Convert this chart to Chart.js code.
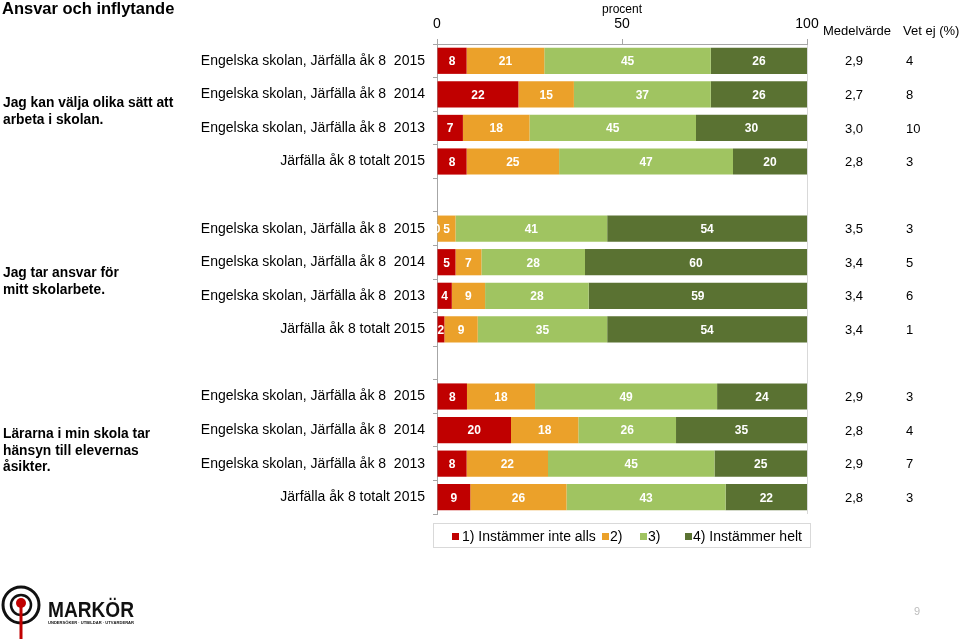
<!DOCTYPE html>
<html>
<head>
<meta charset="utf-8">
<script src="https://cdn.jsdelivr.net/npm/chart.js@4.4.1/dist/chart.umd.min.js"></script>
<style>
  html, body { margin: 0; padding: 0; background: #fff; }
  #wrap { position: relative; width: 959px; height: 639px; overflow: hidden; font-family: "Liberation Sans", Arial, sans-serif; }
  #c { position: absolute; left: 0; top: 0; }
  #legend { position: absolute; left: 433px; top: 523px; width: 378px; height: 25px; border: 1px solid #d9d9d9; box-sizing: border-box; }
  .li { position: absolute; top: 0; height: 25px; line-height: 25px; font-size: 14px; color: #000; white-space: nowrap; }
  .sw { position: absolute; top: 9px; width: 7px; height: 7px; }
  #pnum { position: absolute; left: 914px; top: 605px; font-size: 11px; color: #bdbdbd; }
  #logo { position: absolute; left: 0; top: 584px; }
</style>
</head>
<body>
<div id="wrap">
  <canvas id="c" width="959" height="639"></canvas>
  <div id="legend"></div>
  <div id="pnum">9</div>
  <svg id="logo" width="150" height="55" viewBox="0 0 150 55">
    <circle cx="21" cy="21" r="18" fill="none" stroke="#111" stroke-width="3"/>
    <circle cx="21" cy="21" r="10" fill="none" stroke="#111" stroke-width="2.5"/>
    <line x1="21" y1="21" x2="21" y2="55" stroke="#c00000" stroke-width="3"/>
    <circle cx="21" cy="19" r="5" fill="#c00000"/>
    <text x="48" y="33" font-family="Liberation Sans, Arial" font-weight="bold" font-size="22" fill="#111" textLength="86" lengthAdjust="spacingAndGlyphs">MARKÖR</text>
    <text x="48" y="40" font-family="Liberation Sans, Arial" font-weight="bold" font-size="4" fill="#111" textLength="86" lengthAdjust="spacingAndGlyphs">UNDERSÖKER · UTBILDAR · UTVÄRDERAR</text>
  </svg>
</div>
<script>
// ---- Data ----
const rowLabels = [
  'Engelska skolan, Järfälla åk 8  2015',
  'Engelska skolan, Järfälla åk 8  2014',
  'Engelska skolan, Järfälla åk 8  2013',
  'Järfälla åk 8 totalt 2015',
  '',
  'Engelska skolan, Järfälla åk 8  2015',
  'Engelska skolan, Järfälla åk 8  2014',
  'Engelska skolan, Järfälla åk 8  2013',
  'Järfälla åk 8 totalt 2015',
  '',
  'Engelska skolan, Järfälla åk 8  2015',
  'Engelska skolan, Järfälla åk 8  2014',
  'Engelska skolan, Järfälla åk 8  2013',
  'Järfälla åk 8 totalt 2015'
];
const seriesNames = ['1) Instämmer inte alls', '2)', '3)', '4) Instämmer helt'];
const s1 = [8, 22, 7, 8, null, 0, 5, 4, 2, null, 8.1, 20.0, 8, 9];
const s2 = [21, 15, 18, 25, null, 5, 7, 9, 9, null, 18.4, 18.2, 22, 26];
const s3 = [45, 37, 45, 47, null, 41, 28, 28, 35, null, 49.2, 26.4, 45, 43];
const s4 = [26, 26, 30, 20, null, 54, 60, 59, 54, null, 24.3, 35.4, 25, 22];
const means = ['2,9', '2,7', '3,0', '2,8', '', '3,5', '3,4', '3,4', '3,4', '', '2,9', '2,8', '2,9', '2,8'];
const vetEj = ['4', '8', '10', '3', '', '3', '5', '6', '1', '', '3', '4', '7', '3'];
const questions = [
  ['Jag kan välja olika sätt att', 'arbeta i skolan.'],
  ['Jag tar ansvar för', 'mitt skolarbete.'],
  ['Lärarna i min skola tar', 'hänsyn till elevernas', 'åsikter.']
];
const questionRows = [[0, 3], [5, 8], [10, 13]];
const xTicks = [0, 50, 100];
const colors = ['#c00000', '#eba12a', '#a0c461', '#5a7232'];

// ---- Legend (HTML) ----
const legendPos = [[18, 28], [168, 176], [206, 214], [251, 259]];
const leg = document.getElementById('legend');
seriesNames.forEach((n, i) => {
  const sw = document.createElement('div');
  sw.className = 'sw'; sw.style.left = legendPos[i][0] + 'px'; sw.style.background = colors[i];
  leg.appendChild(sw);
  const t = document.createElement('div');
  t.className = 'li'; t.style.left = legendPos[i][1] + 'px'; t.textContent = n;
  leg.appendChild(t);
});

const FONT = '"Liberation Sans", Arial, sans-serif';
const qOffsets = [0.5, 2.5, 4];

const labelPlugin = {
  id: 'segLabels',
  afterDatasetsDraw(chart) {
    const ctx = chart.ctx;
    ctx.save();
    ctx.font = 'bold 12px ' + FONT;
    ctx.fillStyle = '#ffffff';
    ctx.textAlign = 'center';
    ctx.textBaseline = 'middle';
    chart.data.datasets.forEach((ds, di) => {
      const meta = chart.getDatasetMeta(di);
      meta.data.forEach((el, i) => {
        const v = ds.data[i];
        if (v === null || v === undefined) return;
        const x = (el.x + el.base) / 2;
        ctx.fillText(String(Math.round(v)), x, el.y + 1);
      });
    });
    ctx.restore();
  },
  afterDraw(chart) {
    const ctx = chart.ctx;
    const y = chart.scales.y;
    ctx.save();
    ctx.fillStyle = '#000';
    ctx.textBaseline = 'middle';
    ctx.textAlign = 'left';
    ctx.font = 'bold 16.5px ' + FONT;
    ctx.fillText('Ansvar och inflytande', 2, 9);
    ctx.font = '13px ' + FONT;
    ctx.fillText('Medelvärde', 823, 31);
    ctx.fillText('Vet ej (%)', 903, 31);
    rowLabels.forEach((l, i) => {
      const py = y.getPixelForValue(i) + 1;
      if (means[i]) ctx.fillText(means[i], 845, py);
      if (vetEj[i]) ctx.fillText(vetEj[i], 906, py);
    });
    ctx.font = 'bold 13.8px ' + FONT;
    questions.forEach((lines, qi) => {
      const r = questionRows[qi];
      const cy = (y.getPixelForValue(r[0]) + y.getPixelForValue(r[1])) / 2 + qOffsets[qi];
      const lh = 16.5;
      const start = cy - (lines.length - 1) * lh / 2;
      lines.forEach((ln, k) => ctx.fillText(ln, 3, start + k * lh));
    });
    ctx.restore();
  }
};

new Chart(document.getElementById('c'), {
  type: 'bar',
  data: {
    labels: rowLabels,
    datasets: [s1, s2, s3, s4].map((d, i) => ({
      label: seriesNames[i],
      data: d,
      backgroundColor: colors[i],
      borderWidth: 0,
      barPercentage: 0.78,
      categoryPercentage: 1
    }))
  },
  options: {
    indexAxis: 'y',
    responsive: false,
    devicePixelRatio: 1,
    animation: false,
    layout: { padding: { left: 0, right: 152, top: 0, bottom: 125 } },
    plugins: { legend: { display: false }, tooltip: { enabled: false } },
    scales: {
      x: {
        position: 'top',
        stacked: true,
        min: 0, max: 100,
        afterBuildTicks: (s) => { s.ticks = xTicks.map(v => ({ value: v })); },
        afterFit: (s) => { s.height = 44; },
        ticks: { font: { family: FONT, size: 14 }, color: '#000', padding: 6, maxRotation: 0 },
        grid: {
          drawOnChartArea: true,
          color: (c) => (c.tick && c.tick.value === 100 ? '#d9d9d9' : 'rgba(0,0,0,0)'),
          tickColor: '#a6a6a6',
          tickLength: 5
        },
        border: { display: true, color: '#a6a6a6' },
        title: { display: true, text: 'procent', font: { family: FONT, size: 12 }, color: '#000', padding: { top: 2, bottom: 0 } }
      },
      y: {
        stacked: true,
        afterFit: (s) => { s.width = 437; },
        ticks: { font: { family: FONT, size: 14 }, color: '#000', padding: 8, autoSkip: false },
        grid: { drawOnChartArea: false, offset: true, tickColor: '#a6a6a6', tickLength: 4 },
        border: { display: true, color: '#a6a6a6' }
      }
    }
  },
  plugins: [labelPlugin]
});
</script>
</body>
</html>
